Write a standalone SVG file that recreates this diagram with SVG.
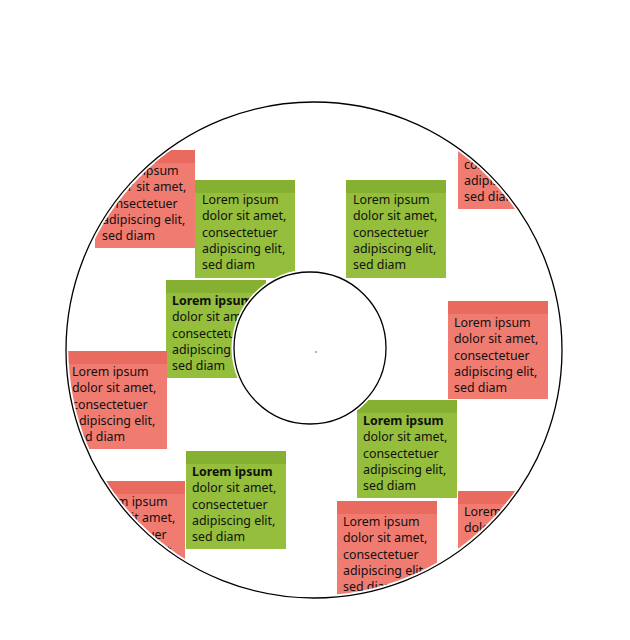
<svg xmlns="http://www.w3.org/2000/svg" width="630" height="640" viewBox="0 0 630 640">
  <style>
    .r .body{fill:#F07B71}
    .r .head{fill:#E96B60}
    .g .body{fill:#94BE3B}
    .g .head{fill:#86B031}
    text{font-family:"Noto Sans","Liberation Sans",sans-serif;font-size:12.4px;fill:#111}
    .b{font-weight:bold}
    .ring{fill:none;stroke:#000;stroke-width:1.3}
  </style>
  <defs>
    <clipPath id="annulus">
      <path clip-rule="evenodd" d="M68.5,350a245.5,245.5 0 1,0 491,0a245.5,245.5 0 1,0 -491,0Z M231.5,348a78.5,78.5 0 1,0 157,0a78.5,78.5 0 1,0 -157,0Z"/>
    </clipPath>
  </defs>
  <rect width="630" height="640" fill="#fff"/>
  <g clip-path="url(#annulus)">
    <g id="note1" class="r" transform="translate(95,150)">
      <rect class="body" width="100" height="98"/><rect class="head" width="100" height="13"/>
      <text x="7" y="25"><tspan x="7">Lorem ipsum</tspan><tspan x="7" dy="16.3">dolor sit amet,</tspan><tspan x="7" dy="16.3">consectetuer</tspan><tspan x="7" dy="16.3">adipiscing elit,</tspan><tspan x="7" dy="16.3">sed diam</tspan></text>
    </g>
    <g id="note2" class="g" transform="translate(195,180)">
      <rect class="body" width="100" height="98"/><rect class="head" width="100" height="13"/>
      <text x="7" y="24"><tspan x="7">Lorem ipsum</tspan><tspan x="7" dy="16.3">dolor sit amet,</tspan><tspan x="7" dy="16.3">consectetuer</tspan><tspan x="7" dy="16.3">adipiscing elit,</tspan><tspan x="7" dy="16.3">sed diam</tspan></text>
    </g>
    <g id="note3" class="g" transform="translate(346,180)">
      <rect class="body" width="100" height="98"/><rect class="head" width="100" height="13"/>
      <text x="7" y="24"><tspan x="7">Lorem ipsum</tspan><tspan x="7" dy="16.3">dolor sit amet,</tspan><tspan x="7" dy="16.3">consectetuer</tspan><tspan x="7" dy="16.3">adipiscing elit,</tspan><tspan x="7" dy="16.3">sed diam</tspan></text>
    </g>
    <g id="note4" class="r" transform="translate(458,111)">
      <rect class="body" width="100" height="98"/><rect class="head" width="100" height="13"/>
      <text x="6" y="25"><tspan x="6">Lorem ipsum</tspan><tspan x="6" dy="16.3">dolor sit amet,</tspan><tspan x="6" dy="16.3">consectetuer</tspan><tspan x="6" dy="16.3">adipiscing elit,</tspan><tspan x="6" dy="16.3">sed diam</tspan></text>
    </g>
    <g id="note5" class="g" transform="translate(166,280)">
      <rect class="body" width="100" height="98"/><rect class="head" width="100" height="13"/>
      <text x="6" y="25"><tspan x="6" class="b">Lorem ipsum</tspan><tspan x="6" dy="16.3">dolor sit amet,</tspan><tspan x="6" dy="16.3">consectetuer</tspan><tspan x="6" dy="16.3">adipiscing elit,</tspan><tspan x="6" dy="16.3">sed diam</tspan></text>
    </g>
    <g id="note6" class="r" transform="translate(67,351)">
      <rect class="body" width="100" height="98"/><rect class="head" width="100" height="13"/>
      <text x="5" y="25"><tspan x="5">Lorem ipsum</tspan><tspan x="5" dy="16.3">dolor sit amet,</tspan><tspan x="5" dy="16.3">consectetuer</tspan><tspan x="5" dy="16.3">adipiscing elit,</tspan><tspan x="5" dy="16.3">sed diam</tspan></text>
    </g>
    <g id="note7" class="r" transform="translate(448,301)">
      <rect class="body" width="100" height="98"/><rect class="head" width="100" height="13"/>
      <text x="6" y="26"><tspan x="6">Lorem ipsum</tspan><tspan x="6" dy="16.3">dolor sit amet,</tspan><tspan x="6" dy="16.3">consectetuer</tspan><tspan x="6" dy="16.3">adipiscing elit,</tspan><tspan x="6" dy="16.3">sed diam</tspan></text>
    </g>
    <g id="note8" class="g" transform="translate(357,400)">
      <rect class="body" width="100" height="98"/><rect class="head" width="100" height="13"/>
      <text x="6" y="25"><tspan x="6" class="b">Lorem ipsum</tspan><tspan x="6" dy="16.3">dolor sit amet,</tspan><tspan x="6" dy="16.3">consectetuer</tspan><tspan x="6" dy="16.3">adipiscing elit,</tspan><tspan x="6" dy="16.3">sed diam</tspan></text>
    </g>
    <g id="note9" class="r" transform="translate(85,481)">
      <rect class="body" width="100" height="98"/><rect class="head" width="100" height="13"/>
      <text x="6" y="25"><tspan x="6">Lorem ipsum</tspan><tspan x="6" dy="16.3">dolor sit amet,</tspan><tspan x="6" dy="16.3">consectetuer</tspan><tspan x="6" dy="16.3">adipiscing elit,</tspan><tspan x="6" dy="16.3">sed diam</tspan></text>
    </g>
    <g id="note10" class="g" transform="translate(186,451)">
      <rect class="body" width="100" height="98"/><rect class="head" width="100" height="13"/>
      <text x="6" y="25"><tspan x="6" class="b">Lorem ipsum</tspan><tspan x="6" dy="16.3">dolor sit amet,</tspan><tspan x="6" dy="16.3">consectetuer</tspan><tspan x="6" dy="16.3">adipiscing elit,</tspan><tspan x="6" dy="16.3">sed diam</tspan></text>
    </g>
    <g id="note11" class="r" transform="translate(337,501)">
      <rect class="body" width="100" height="98"/><rect class="head" width="100" height="13"/>
      <text x="6" y="25"><tspan x="6">Lorem ipsum</tspan><tspan x="6" dy="16.3">dolor sit amet,</tspan><tspan x="6" dy="16.3">consectetuer</tspan><tspan x="6" dy="16.3">adipiscing elit,</tspan><tspan x="6" dy="16.3">sed diam</tspan></text>
    </g>
    <g id="note12" class="r" transform="translate(458,491)">
      <rect class="body" width="100" height="98"/><rect class="head" width="100" height="13"/>
      <text x="6" y="25"><tspan x="6">Lorem ipsum</tspan><tspan x="6" dy="16.3">dolor sit amet,</tspan><tspan x="6" dy="16.3">consectetuer</tspan><tspan x="6" dy="16.3">adipiscing elit,</tspan><tspan x="6" dy="16.3">sed diam</tspan></text>
    </g>
  </g>
  <g id="rings">
    <circle class="ring" cx="314" cy="350" r="248"/>
    <circle class="ring" cx="310" cy="348" r="76"/>
    <circle cx="316" cy="352" r="0.7" fill="#6a1a1a"/>
  </g>
</svg>
